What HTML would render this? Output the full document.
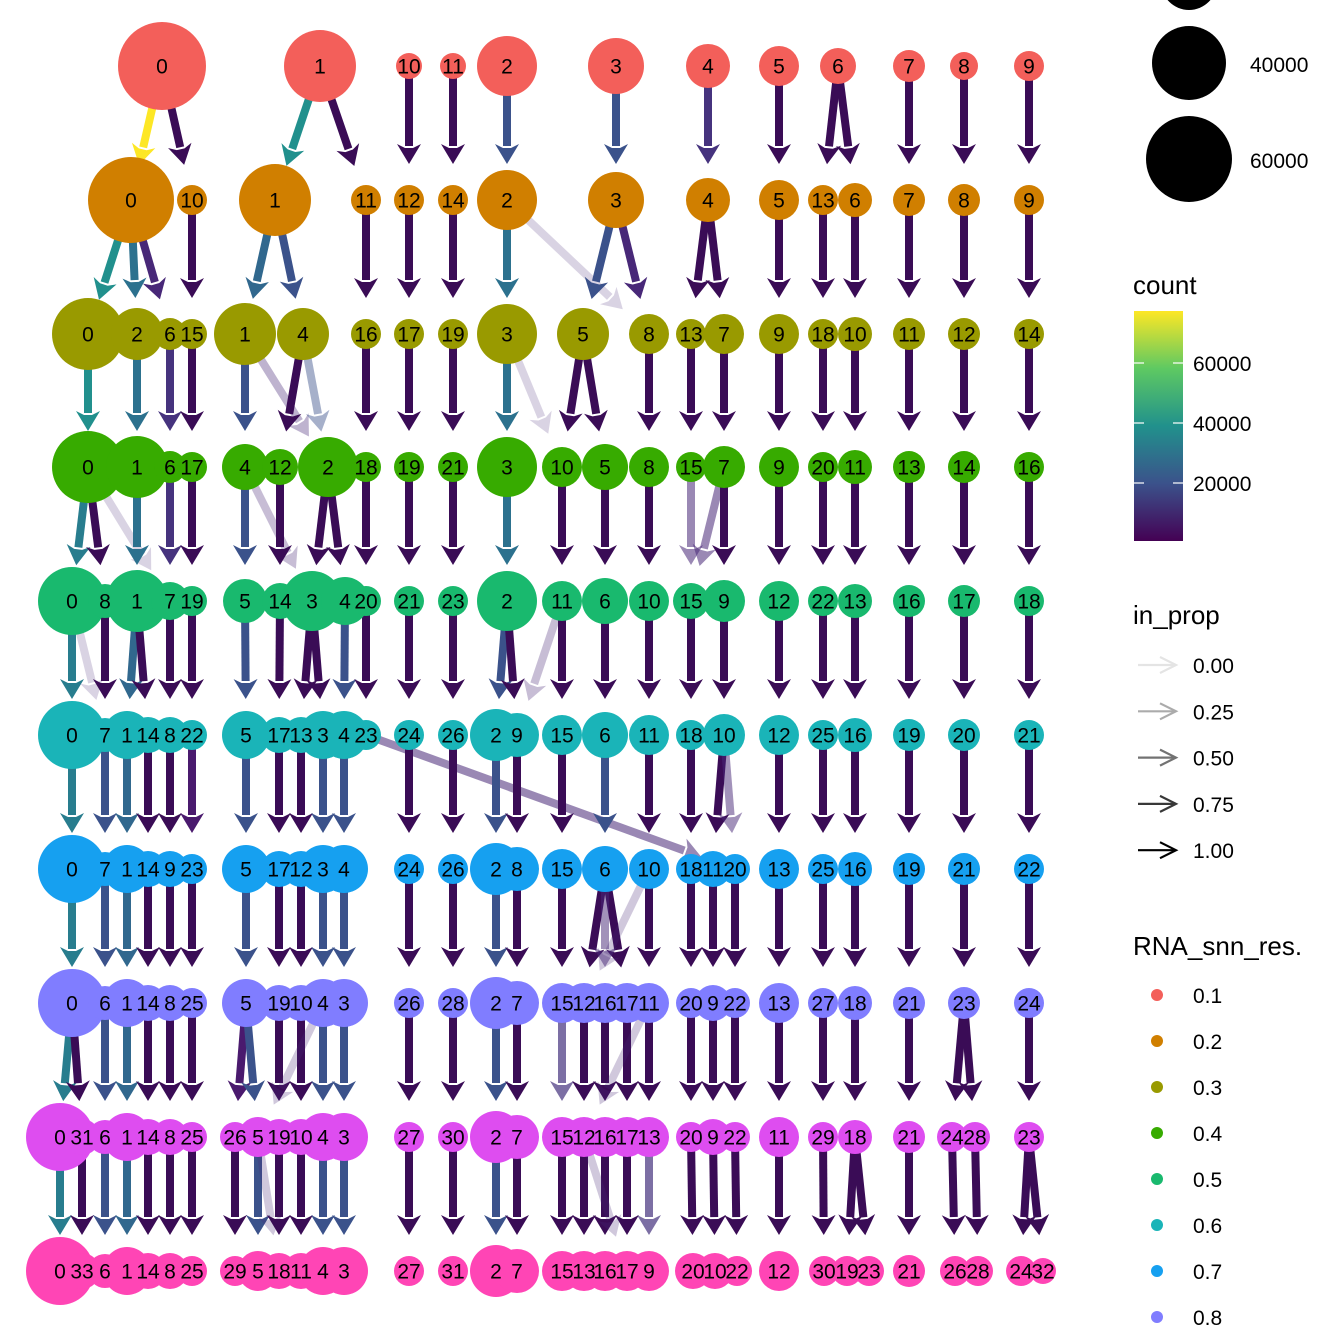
<!DOCTYPE html>
<html><head><meta charset="utf-8"><style>
html,body{margin:0;padding:0;background:#fff;}
svg{display:block;font-family:"Liberation Sans",sans-serif;}
</style></head><body>
<svg id="s" width="1344" height="1344" viewBox="0 0 1344 1344" xmlns="http://www.w3.org/2000/svg">
<defs>
<linearGradient id="vg" x1="0" y1="1" x2="0" y2="0">
<stop offset="0" stop-color="#440154"/><stop offset="0.25" stop-color="#3b528b"/><stop offset="0.5" stop-color="#21918c"/><stop offset="0.75" stop-color="#5ec962"/><stop offset="1" stop-color="#fde725"/>
</linearGradient>
</defs>
<g id="edges"></g><g id="nodes"></g><g id="labels" font-size="21" text-anchor="middle"></g>
<!-- legend -->
<circle cx="1189" cy="-18" r="28" fill="#000"/>
<circle cx="1189" cy="63" r="37" fill="#000"/>
<text x="1250" y="72" font-size="21">40000</text>
<circle cx="1189" cy="159" r="43" fill="#000"/>
<text x="1250" y="168" font-size="21">60000</text>
<text x="1133" y="294" font-size="26">count</text>
<rect x="1134" y="311" width="49" height="230" fill="url(#vg)"/>
<g stroke="#fff" stroke-width="1.2"><line x1="1134" y1="363" x2="1144" y2="363"/><line x1="1173" y1="363" x2="1183" y2="363"/><line x1="1134" y1="423" x2="1144" y2="423"/><line x1="1173" y1="423" x2="1183" y2="423"/><line x1="1134" y1="483" x2="1144" y2="483"/><line x1="1173" y1="483" x2="1183" y2="483"/></g>
<g font-size="21"><text x="1193" y="371">60000</text><text x="1193" y="431">40000</text><text x="1193" y="491">20000</text></g>
<text x="1133" y="624" font-size="26">in_prop</text>
<g id="ipl" font-size="21"></g>
<text x="1133" y="955" font-size="26">RNA_snn_res.</text>
<g id="rl" font-size="21"></g>
</svg>
<script>
var NS="http://www.w3.org/2000/svg";
function el(p,t,a,txt){var e=document.createElementNS(NS,t);for(var k in a)e.setAttribute(k,a[k]);if(txt!==undefined)e.textContent=txt;p.appendChild(e);return e;}
var Y=[66,200,334,467,601,735,869,1003,1137,1271];
var C=["#f35f5a","#d07f00","#999a00","#37ab00","#19b96e","#1ab4b8","#16a0f0","#807dff","#de4df0","#ff45b5"];
var N=[
"162,44,0;320,36,1;409,13,10;453,13,11;507,30,2;616,28,3;708,22,4;779,20,5;838,18,6;909,16,7;964,14,8;1029,15,9",
"131,43,0;192,15,10;275,36,1;366,15,11;409,15,12;453,15,14;507,30,2;616,28,3;708,22,4;779,20,5;823,15,13;855,17,6;909,16,7;964,16,8;1029,15,9",
"88,36,0;137,26,2;170,16,6;192,15,15;245,31,1;303,26,4;366,15,16;409,15,17;453,15,19;507,30,3;583,26,5;649,20,8;691,15,13;724,20,7;779,20,9;823,15,18;855,17,10;909,16,11;964,16,12;1029,15,14",
"88,36,0;137,31,1;170,16,6;192,15,17;245,23,4;280,18,12;328,30,2;366,15,18;409,15,19;453,15,21;507,30,3;562,20,10;605,23,5;649,20,8;691,15,15;724,21,7;779,20,9;823,15,20;855,17,11;909,16,13;964,16,14;1029,15,16",
"72,34,0;105,17,8;137,31,1;170,19,7;192,15,19;245,22,5;280,18,14;312,30,3;345,24,4;366,15,20;409,15,21;453,15,23;507,30,2;562,20,11;605,23,6;649,20,10;691,18,15;724,21,9;779,20,12;823,15,22;855,17,13;909,16,16;964,16,17;1029,15,18",
"72,34,0;105,17,7;127,24,1;148,18,14;170,18,8;192,15,22;246,24,5;279,18,17;301,18,13;323,24,3;344,24,4;366,15,23;409,15,24;453,15,26;496,26,2;517,22,9;562,20,15;605,23,6;649,20,11;691,15,18;724,21,10;779,20,12;823,15,25;855,17,16;909,16,19;964,16,20;1029,15,21",
"72,34,0;105,17,7;127,24,1;148,18,14;170,18,9;192,15,23;246,24,5;279,18,17;301,18,12;323,24,3;344,24,4;409,15,24;453,15,26;496,26,2;517,22,8;562,20,15;605,23,6;649,20,10;691,15,18;713,18,11;735,15,20;779,20,13;823,15,25;855,17,16;909,16,19;964,16,21;1029,15,22",
"72,34,0;105,17,6;127,24,1;148,18,14;170,18,8;192,15,25;246,24,5;279,18,19;301,18,10;323,24,4;344,24,3;409,15,26;453,15,28;496,26,2;517,22,7;562,20,15;584,20,12;605,20,16;627,20,17;649,20,11;691,15,20;713,18,9;735,15,22;779,20,13;823,15,27;855,17,18;909,16,21;964,16,23;1029,15,24",
"60,34,0;82,18,31;105,17,6;127,24,1;148,18,14;170,18,8;192,15,25;235,15,26;258,20,5;279,18,19;301,18,10;323,24,4;344,24,3;409,15,27;453,15,30;496,26,2;517,22,7;562,20,15;584,20,12;605,20,16;627,20,17;649,20,13;691,15,20;713,18,9;735,15,22;779,20,11;823,15,29;855,17,18;909,16,21;952,15,24;975,15,28;1029,15,23",
"60,34,0;82,18,33;105,17,6;127,24,1;148,18,14;170,18,8;192,15,25;235,15,29;258,20,5;279,18,18;301,18,11;323,24,4;344,24,3;409,15,27;453,15,31;496,26,2;517,22,7;562,20,15;584,20,13;605,20,16;627,20,17;649,20,9;693,18,20;715,18,10;737,15,22;779,20,12;824,15,30;847,15,19;869,15,23;909,16,21;955,15,26;978,15,28;1021,15,24;1043,13,32"
];
var K={Y:"#fde725",T:"#21908d",T2:"#287d8e",B:"#2c718e",B2:"#31688e",B3:"#3b528b",P:"#46337e",P2:"#482878",D:"#3a0c56",Q:"#4a1a6e"};
var E=[
"162>131Y;162>192;320>275T;320>366;409>409;453>453;507>507B3;616>616B3;708>708P;779>779;838>823;838>855;909>909;964>964;1029>1029",
"131>88T;131>137B;131>170P2;192>192;275>245B2;275>303B3;366>366;409>409;453>453;507>507B;507>649P2.2;616>583B3;616>649P2;708>691;708>724;779>779;823>823;855>855;909>909;964>964;1029>1029",
"88>88T;137>137B;170>170P;192>192;245>245B3;245>328P2.35;303>280;303>328B3.45;366>366;409>409;453>453;507>507B;507>562P2.2;583>562;583>605;649>649;691>691;724>724;779>779;823>823;855>855;909>909;964>964;1029>1029",
"88>72T2;88>105;88>170P2.2;137>137B;170>170P;192>192;245>245B3;245>312P2.3;280>280;328>312;328>345;366>366;409>409;453>453;507>507B;562>562;605>605;649>649;691>691P2.55;724>691P2.55;724>724;779>779;823>823;855>855;909>909;964>964;1029>1029",
"72>72T2;72>105P2.2;105>105;137>127B2;137>148;170>170;192>192;245>246B3;280>279;312>301;312>323;345>344B3;366>366;409>409;453>453;507>496B3;507>517;562>517P2.3;562>562;605>605;649>649;691>691;724>724;779>779;823>823;855>855;909>909;964>964;1029>1029",
"72>72T2;105>105B3;127>127B2;148>148;170>170;192>192Q;246>246B3;279>279;301>301;323>323B3;344>344B3;366>735P2.55;409>409;453>453;496>496B3;517>517;562>562;605>605B3;649>649;691>691;724>713;724>735P2.5;779>779;823>823;855>855;909>909;964>964;1029>1029",
"72>72T2;105>105B3;127>127B2;148>148;170>170;192>192;246>246B3;279>279;301>301;323>323B3;344>344B3;409>409;453>453;496>496B3;517>517;562>562;605>584;605>627;605>605P2.5;649>584P2.25;649>649;691>691;713>713;735>735;779>779;823>823;855>855;909>909;964>964;1029>1029",
"72>60T2;72>82;105>105B3;127>127B2;148>148;170>170;192>192;246>235Q;246>258B3;279>279;301>301;323>258P2.25;323>323B3;344>344B3;409>409;453>453;496>496B3;517>517;562>562P.7;584>584;605>605;627>627;649>584P2.25;649>649;691>691;713>713;735>735;779>779;823>823;855>855;909>909;964>952;964>975;1029>1029",
"60>60T2;82>82;105>105B3;127>127B2;148>148;170>170;192>192;235>235;258>258B3;258>279P2.25;279>279;301>301;323>323B3;344>344B3;409>409;453>453;496>496B3;517>517;562>562;584>584;605>605;627>627;649>649P.7;584>627P2.25;691>693;713>715;735>737;779>779;823>824;855>847;855>869;909>909;952>955;975>978;1029>1021;1029>1043"
];
var ge=document.getElementById("edges"),gn=document.getElementById("nodes"),gl=document.getElementById("labels");
E.forEach(function(s,i){
  var y1=Y[i],y2=Y[i+1];
  s.split(";").forEach(function(t){
    var m=t.match(/^(\d+)>(\d+)([A-Z]\d?)?(\.\d+)?$/);
    var px=+m[1],cx=+m[2],col=K[m[3]||"D"],a=m[4]?parseFloat(m[4]):1;
    var dx=cx-px,dy=y2-y1,L=Math.sqrt(dx*dx+dy*dy),ux=dx/L,uy=dy/L;
    var tx=cx-ux*36,ty=y2-uy*36;
    var bx=tx-ux*20,by=ty-uy*20;
    var g=el(ge,"g",{opacity:a});
    el(g,"line",{x1:px,y1:y1,x2:bx+ux*2,y2:by+uy*2,stroke:col,"stroke-width":8});
    var nx=-uy,ny=ux;
    el(g,"polygon",{points:tx+","+ty+" "+(bx+nx*12)+","+(by+ny*12)+" "+(bx+nx*4+ux*4)+","+(by+ny*4+uy*4)+" "+(bx-nx*4+ux*4)+","+(by-ny*4+uy*4)+" "+(bx-nx*12)+","+(by-ny*12),fill:col});
  });
});
N.forEach(function(s,i){
  s.split(";").forEach(function(t){
    var p=t.split(",");
    el(gn,"circle",{cx:p[0],cy:Y[i],r:p[1],fill:C[i]});
  });
});
N.forEach(function(s,i){
  s.split(";").forEach(function(t){
    var p=t.split(",");
    el(gl,"text",{x:p[0],y:Y[i]+7.5},p[2]);
  });
});
var ip=document.getElementById("ipl");
[0.1,0.325,0.55,0.775,1].forEach(function(a,k){
  var y=665+k*46.3;
  var g=el(ip,"g",{opacity:a,stroke:"#000","stroke-width":2.2,fill:"none"});
  el(g,"line",{x1:1138,y1:y,x2:1176,y2:y});
  el(g,"polyline",{points:"1160,"+(y-8)+" 1176,"+y+" 1160,"+(y+8)});
  el(ip,"text",{x:1193,y:y+8},["0.00","0.25","0.50","0.75","1.00"][k]);
});
var rl=document.getElementById("rl");
for(var k=0;k<8;k++){
  var y=995+k*46;
  el(rl,"circle",{cx:1157,cy:y,r:6,fill:C[k]});
  el(rl,"text",{x:1193,y:y+8},"0."+(k+1));
}
</script>
</body></html>
